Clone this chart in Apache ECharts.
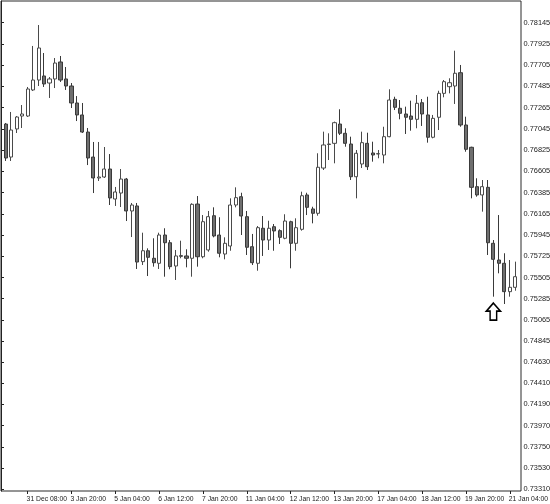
<!DOCTYPE html>
<html>
<head>
<meta charset="utf-8">
<script src="https://cdn.jsdelivr.net/npm/echarts@6/dist/echarts.min.js"></script>
<style>html,body{margin:0;padding:0;background:#fff}#c{width:550px;height:504px}</style>
</head>
<body>
<div id="c"></div>
<script>
const categories = [
'30 Dec 16:00','30 Dec 20:00','31 Dec 00:00','31 Dec 04:00','31 Dec 08:00','31 Dec 12:00','31 Dec 16:00',
'3 Jan 00:00','3 Jan 04:00','3 Jan 08:00','3 Jan 12:00','3 Jan 16:00','3 Jan 20:00',
'4 Jan 00:00','4 Jan 04:00','4 Jan 08:00','4 Jan 12:00','4 Jan 16:00','4 Jan 20:00',
'5 Jan 00:00','5 Jan 04:00','5 Jan 08:00','5 Jan 12:00','5 Jan 16:00','5 Jan 20:00',
'6 Jan 00:00','6 Jan 04:00','6 Jan 08:00','6 Jan 12:00','6 Jan 16:00','6 Jan 20:00',
'7 Jan 00:00','7 Jan 04:00','7 Jan 08:00','7 Jan 12:00','7 Jan 16:00','7 Jan 20:00',
'10 Jan 00:00','10 Jan 04:00','10 Jan 08:00','10 Jan 12:00','10 Jan 16:00','10 Jan 20:00',
'11 Jan 00:00','11 Jan 04:00','11 Jan 08:00','11 Jan 12:00','11 Jan 16:00','11 Jan 20:00',
'12 Jan 00:00','12 Jan 04:00','12 Jan 08:00','12 Jan 12:00','12 Jan 16:00','12 Jan 20:00',
'13 Jan 00:00','13 Jan 04:00','13 Jan 08:00','13 Jan 12:00','13 Jan 16:00','13 Jan 20:00',
'14 Jan 00:00','14 Jan 04:00','14 Jan 08:00','14 Jan 12:00','14 Jan 16:00','14 Jan 20:00',
'17 Jan 00:00','17 Jan 04:00','17 Jan 08:00','17 Jan 12:00','17 Jan 16:00','17 Jan 20:00',
'18 Jan 00:00','18 Jan 04:00','18 Jan 08:00','18 Jan 12:00','18 Jan 16:00','18 Jan 20:00',
'19 Jan 00:00','19 Jan 04:00','19 Jan 08:00','19 Jan 12:00','19 Jan 16:00','19 Jan 20:00',
'20 Jan 00:00','20 Jan 04:00','20 Jan 08:00','20 Jan 12:00','20 Jan 16:00','20 Jan 20:00',
'21 Jan 00:00','21 Jan 04:00','21 Jan 08:00'
];
const xTickLabels = ['31 Dec 08:00','3 Jan 20:00','5 Jan 04:00','6 Jan 12:00','7 Jan 20:00','11 Jan 04:00',
'12 Jan 12:00','13 Jan 20:00','17 Jan 04:00','18 Jan 12:00','19 Jan 20:00','21 Jan 04:00'];
const yTickLabels = ['0.78145','0.77925','0.77705','0.77485','0.77265','0.77045','0.76825','0.76605',
'0.76385','0.76165','0.75945','0.75725','0.75505','0.75285','0.75065','0.74845','0.74630','0.74410',
'0.74190','0.73970','0.73750','0.73530','0.73310'];

const opens = [0.77095,0.76753,0.77044,0.77178,0.77178,0.77448,0.77551,0.77593,0.77520,0.77562,
0.77738,0.77562,0.77489,0.77313,0.77189,0.77012,0.76753,0.76536,0.76546,0.76629,
0.76318,0.76380,0.76525,0.76194,0.76246,0.75669,0.75782,0.75704,0.75652,0.75945,
0.75865,0.75624,0.75723,0.75728,0.75704,0.76266,0.75720,0.75790,0.76145,0.75945,
0.75748,0.75831,0.76256,0.76342,0.76135,0.75824,0.75652,0.76015,0.75893,0.76031,
0.75990,0.75911,0.76083,0.75859,0.76004,0.76360,0.76215,0.76170,0.76639,0.76883,
0.76895,0.77095,0.76999,0.76888,0.76549,0.76681,0.76895,0.76795,0.76785,0.76774,
0.76964,0.77351,0.77258,0.77199,0.77178,0.77144,0.77316,0.77189,0.76958,0.77165,
0.77413,0.77482,0.77489,0.77627,0.77085,0.76854,0.76446,0.76360,0.76439,0.75859,
0.75686,0.75652,0.75358,0.75403];
const closes = [0.76743,0.77033,0.77168,0.77199,0.77458,0.77551,0.77883,0.77510,0.77562,0.77727,
0.77551,0.77489,0.77313,0.77189,0.77012,0.76743,0.76536,0.76546,0.76629,0.76329,
0.76391,0.76525,0.76194,0.76256,0.75665,0.75782,0.75714,0.75658,0.75945,0.75865,
0.75617,0.75728,0.75733,0.75704,0.76263,0.75720,0.76083,0.76135,0.75935,0.75756,
0.75859,0.76256,0.76332,0.76142,0.75818,0.75658,0.76021,0.75893,0.76015,0.75987,
0.75921,0.76090,0.75859,0.76021,0.76352,0.76232,0.76170,0.76647,0.76878,0.76888,
0.77109,0.76999,0.76895,0.76549,0.76792,0.76902,0.76653,0.76774,0.76788,0.76964,
0.77344,0.77268,0.77206,0.77165,0.77144,0.77310,0.77199,0.76958,0.77154,0.77413,
0.77534,0.77523,0.77621,0.77085,0.76833,0.76439,0.76360,0.76446,0.75865,0.75693,
0.75652,0.75358,0.75403,0.75513];
const lows = [0.76712,0.76712,0.77002,0.77054,0.77168,0.77437,0.77489,0.77479,0.77365,0.77468,
0.77531,0.77448,0.77261,0.77126,0.77002,0.76670,0.76380,0.76505,0.76536,0.76256,
0.76246,0.76235,0.76090,0.75924,0.75593,0.75634,0.75520,0.75617,0.75593,0.75513,
0.75590,0.75479,0.75704,0.75610,0.75513,0.75617,0.75704,0.75772,0.75921,0.75714,
0.75693,0.75782,0.76232,0.75945,0.75738,0.75634,0.75575,0.75728,0.75790,0.75782,
0.75852,0.75901,0.75600,0.75782,0.75990,0.76152,0.76066,0.76145,0.76619,0.76722,
0.76688,0.76981,0.76860,0.76515,0.76325,0.76639,0.76619,0.76705,0.76740,0.76688,
0.76958,0.77240,0.77144,0.76992,0.77026,0.77051,0.77075,0.76902,0.76947,0.77033,
0.77372,0.77413,0.77303,0.77067,0.76808,0.76325,0.76342,0.76187,0.75738,0.75306,
0.75548,0.75230,0.75306,0.75368];
const highs = [0.77106,0.77220,0.77178,0.77292,0.77479,0.77904,0.78121,0.77831,0.77582,0.77779,
0.77800,0.77686,0.77520,0.77385,0.77313,0.77054,0.76909,0.76909,0.76857,0.76784,
0.76443,0.76629,0.76536,0.76277,0.76277,0.75969,0.75807,0.75911,0.75969,0.76015,
0.75893,0.75790,0.75886,0.75797,0.76274,0.76349,0.76152,0.76194,0.76232,0.76129,
0.75921,0.76325,0.76439,0.76383,0.76194,0.75956,0.76038,0.76142,0.76093,0.76059,
0.76004,0.76160,0.76093,0.76118,0.76394,0.76383,0.76238,0.76792,0.77016,0.76999,
0.77120,0.77248,0.77051,0.76964,0.76826,0.77016,0.77005,0.76912,0.76826,0.77067,
0.77455,0.77378,0.77344,0.77275,0.77337,0.77396,0.77354,0.77378,0.77189,0.77440,
0.77551,0.77569,0.77855,0.77707,0.77171,0.76860,0.76533,0.76515,0.76515,0.75893,
0.76152,0.75756,0.75686,0.75669];

const arrowBarIndex = 89;
const arrowPrice = 0.75152;

const yMin = 0.732924, yMax = 0.783699;
const candleData = categories.map((c, i) => [opens[i], closes[i], lows[i], highs[i]]);
const tickIdx = new Set(xTickLabels.map(l => categories.indexOf(l)));
const showTick = (i) => tickIdx.has(i);
const FONT = "'Liberation Sans', Arial, sans-serif";

const chart = echarts.init(document.getElementById('c'), null, {renderer: 'canvas'});
chart.setOption({
  animation: false,
  backgroundColor: '#ffffff',
  grid: [
    {left: 2.96, top: 1, width: 94 * 5.4796, height: 490, show: false, containLabel: false, outerBoundsMode: 'none'},
    {left: 1, top: 1, width: 520, height: 490, show: true, borderColor: '#2a2a2a', borderWidth: 1,
     backgroundColor: 'transparent', containLabel: false, outerBoundsMode: 'none'}
  ],
  xAxis: [
    {type: 'category', gridIndex: 0, data: categories, boundaryGap: true,
     axisLine: {show: false},
     axisTick: {show: true, alignWithLabel: true, interval: showTick, length: 3, lineStyle: {color: '#222', width: 1}},
     axisLabel: {show: true, interval: showTick, align: 'left', margin: 5, fontSize: 6.8, color: '#222',
       fontFamily: FONT, padding: [0, 0, 0, -1], hideOverlap: false, showMinLabel: true, showMaxLabel: true},
     splitLine: {show: false}},
    {type: 'value', gridIndex: 1, show: false, min: 0, max: 1}
  ],
  yAxis: [
    {type: 'value', gridIndex: 0, show: false, min: yMin, max: yMax, scale: true},
    {type: 'value', gridIndex: 1, position: 'right', min: yMin, max: yMax, scale: true,
     axisLine: {show: true, lineStyle: {color: '#222', width: 1}},
     axisTick: {show: true, length: 3, customValues: yTickLabels.map(Number), lineStyle: {color: '#222'}},
     axisLabel: {show: true, customValues: yTickLabels.map(Number), margin: 2.5, fontSize: 7.4, color: '#222',
       fontFamily: FONT, hideOverlap: false, formatter: (v) => v.toFixed(5)},
     splitLine: {show: false}}
  ],
  series: [{
    type: 'candlestick',
    xAxisIndex: 0, yAxisIndex: 0,
    data: candleData,
    barWidth: 3.6,
    itemStyle: {
      color: '#ffffff', color0: '#6f6f6f',
      borderColor: '#4a4a4a', borderColor0: '#3a3a3a', borderWidth: 1
    },
    markPoint: {
      symbol: 'path://M7.5 0L15 8L11 8L11 17L4 17L4 8L0 8Z',
      symbolSize: [14, 17],
      label: {show: false},
      itemStyle: {color: '#ffffff', borderColor: '#000000', borderWidth: 1.6},
      data: [{coord: [categories[arrowBarIndex], arrowPrice]}]
    }
  }]
});
</script>
</body>
</html>
